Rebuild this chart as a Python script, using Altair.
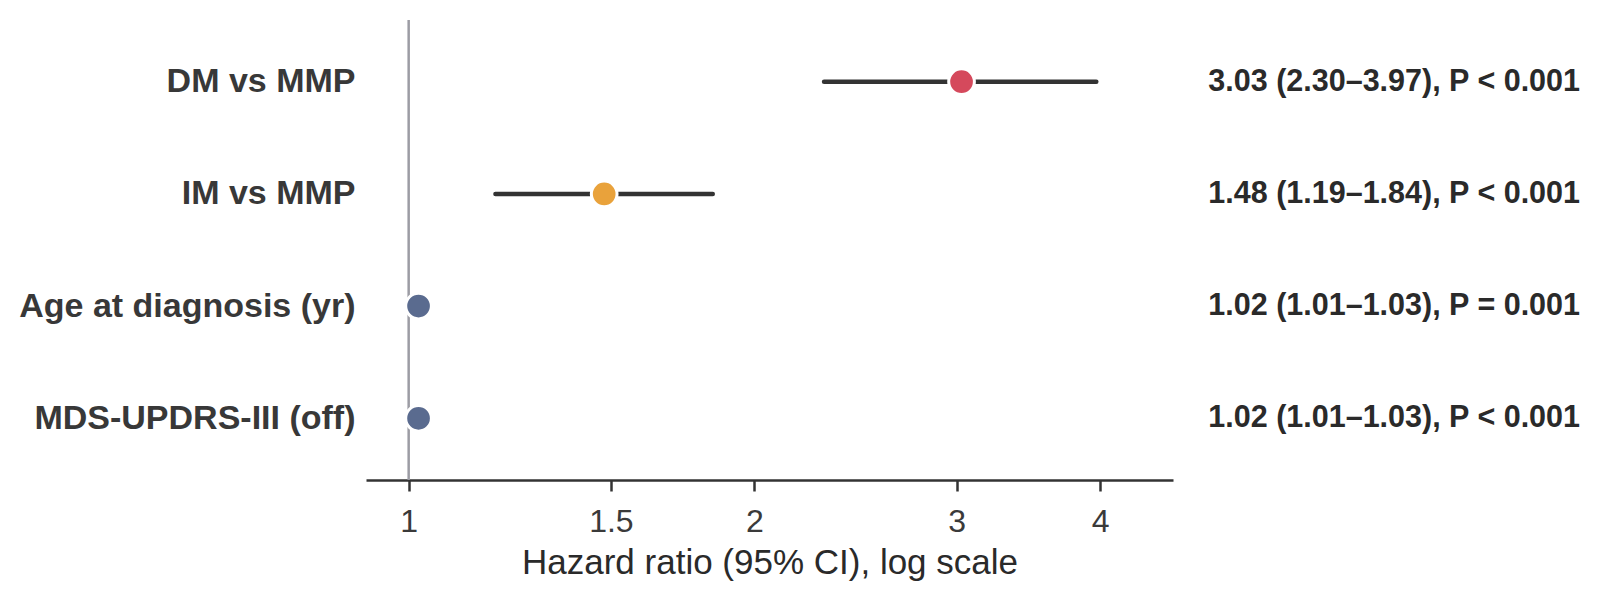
import altair as alt
import pandas as pd

# Cox model estimates
terms = ["DM vs MMP", "IM vs MMP", "Age at diagnosis (yr)", "MDS-UPDRS-III (off)"]
hr = [3.03, 1.48, 1.02, 1.02]
ci_low = [2.30, 1.19, 1.01, 1.01]
ci_high = [3.97, 1.84, 1.03, 1.03]
p_text = ["P < 0.001", "P < 0.001", "P = 0.001", "P < 0.001"]
colors = ["#d5495c", "#e9a23b", "#5a6b8f", "#5a6b8f"]
x_ticks = [1, 1.5, 2, 3, 4]

df = pd.DataFrame({
    "term": terms,
    "hr": hr,
    "lo": ci_low,
    "hi": ci_high,
    "color": colors,
})
df["label"] = [
    f"{h:.2f} ({l:.2f}\u2013{u:.2f}), {p}"
    for h, l, u, p in zip(hr, ci_low, ci_high, p_text)
]

W, H = 807, 460
FONT = "Liberation Sans"

x_scale = alt.Scale(type="log", domain=[0.918, 4.63], nice=False, zero=False)
y_enc = alt.Y(
    "term:N",
    sort=terms,
    scale=alt.Scale(type="point", padding=0.55),
    axis=alt.Axis(
        title=None,
        domain=False,
        ticks=False,
        labelFont=FONT,
        labelFontSize=34,
        labelFontWeight="bold",
        labelColor="#383838",
        labelPadding=11,
        labelLimit=600,
    ),
)

base = alt.Chart(df)

ref = alt.Chart(pd.DataFrame({"v": [1.0]})).mark_rule(
    color="#9c9ca4", strokeWidth=2.5
).encode(x=alt.X("v:Q", scale=x_scale))

ci = base.mark_rule(color="#333333", strokeWidth=4.5, strokeCap="round").encode(
    x=alt.X(
        "lo:Q",
        scale=x_scale,
        axis=alt.Axis(
            values=x_ticks,
            format="~g",
            title="Hazard ratio (95% CI), log scale",
            titleFont=FONT,
            titleFontSize=35,
            titleFontWeight="normal",
            titleColor="#2a2a2a",
            titlePadding=8,
            labelFont=FONT,
            labelFontSize=32,
            labelColor="#3a3a3a",
            labelPadding=15,
            labelFlush=False,
            grid=False,
            domainColor="#333333",
            domainWidth=2.7,
            tickColor="#333333",
            tickWidth=2.5,
            tickSize=11,
        ),
    ),
    x2="hi:Q",
    y=y_enc,
)

pts = base.mark_circle(size=660, opacity=1, stroke="white", strokeWidth=3).encode(
    x=alt.X("hr:Q", scale=x_scale),
    y=alt.Y("term:N", sort=terms),
    color=alt.Color("color:N", scale=None),
)

txt = base.mark_text(
    align="right",
    baseline="middle",
    font=FONT,
    fontSize=30.5,
    fontWeight="bold",
    color="#2a2a2a",
).encode(
    x=alt.value(1214),
    y=alt.Y("term:N", sort=terms),
    text="label:N",
)

chart = (
    alt.layer(ref, ci, pts, txt)
    .properties(
        width=W,
        height=H,
        background="white",
        autosize=alt.AutoSizeParams(type="none"),
        padding={"left": 366, "top": 20, "right": 433, "bottom": 122},
    )
    .configure_view(stroke="transparent", strokeWidth=0)
)

chart.save("out.html", embed_options={"renderer": "svg", "actions": False})
